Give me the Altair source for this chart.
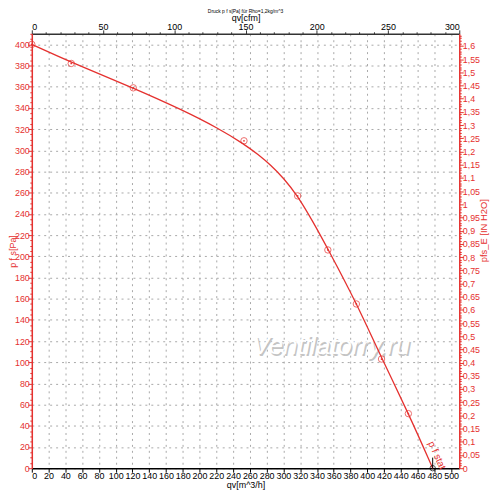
import altair as alt
import pandas as pd

# ---- data ----
qv_points = [0, 47, 121, 253, 317, 353, 387, 417, 449]          # m^3/h
pfs_points = [400, 382, 359, 309, 257, 206, 155, 103, 51.5]      # Pa
qv_curve = [0, 47, 121, 180, 222, 253, 270, 285, 300, 317, 335, 353, 387, 417, 449, 478]
pfs_curve = [400, 383, 359, 338, 321, 306, 296, 286, 274, 257, 233, 207, 156, 104, 52, 0]
op_qv = [478]
op_pfs = [0]
op_pfs_top = [10]
label_qv = [483]
label_pfs = [12]
label_text = ["p f stat"]
title_text = "Druck p f s[Pa] für Rho=1,2kg/m^3"
watermark = "Ventilatorry.ru"

RED = "#e5312f"
PA_MAX = 410
CFM = 1.699          # m^3/h per cfm
Q_MAX = 300 * CFM    # 300 cfm
INH2O = 249.089      # Pa per inH2O
FONT = "Liberation Sans"

pts = pd.DataFrame({"q": qv_points, "p": pfs_points})
curve = pd.DataFrame({"q": qv_curve, "p": pfs_curve})
op = pd.DataFrame({"q": op_qv, "p": op_pfs, "p2": op_pfs_top})
lab = pd.DataFrame({"q": label_qv, "p": label_pfs, "t": label_text})

pa_vals = list(range(0, PA_MAX + 1, 5))
q_vals = list(range(0, 501, 20))
cfm_vals = list(range(0, 301, 10))
in_vals = [round(i * 0.01, 2) for i in range(0, 165)]

MAJ, MIN = 4, 2

X_enc = alt.X(
    "q:Q",
    scale=alt.Scale(domain=[0, Q_MAX], nice=False, zero=False),
    axis=alt.Axis(
        orient="bottom", values=q_vals, title="qv[m^3/h]", labelOverlap=False,
        domainColor="black", domainWidth=1.5, tickColor="black", tickSize=MAJ,
        labelColor="black", titleColor="black", grid=True, gridDash=[2, 4],
        gridColor="#a8a8a8", labelPadding=-1, titlePadding=0, titleFontSize=9,
    ),
)
Y_enc = alt.Y(
    "p:Q",
    scale=alt.Scale(domain=[0, PA_MAX], nice=False),
    axis=alt.Axis(
        orient="left", values=pa_vals, title="p f s[Pa]", labelOverlap=False,
        labelExpr="datum.value % 20 === 0 ? datum.label : ''",
        tickSize={"condition": {"test": "datum.value % 20 === 0", "value": MAJ}, "value": MIN},
        gridOpacity={"condition": {"test": "datum.value % 20 === 0", "value": 1}, "value": 0},
        grid=True, gridDash=[2, 4], gridColor="#a8a8a8",
        domainColor=RED, domainWidth=1.5, tickColor=RED, labelColor=RED,
        titleColor=RED, labelPadding=-1.5, titleX=-19.5, titleBaseline="middle",
        titleFontSize=9,
    ),
)

line = alt.Chart(curve).mark_line(color=RED, strokeWidth=1.3, interpolate="basis").encode(
    x=X_enc, y=Y_enc)
rings = alt.Chart(pts).mark_point(shape="circle", size=42, color=RED, strokeWidth=1,
                                  filled=False).encode(x=X_enc, y=Y_enc)
dots = alt.Chart(pts).mark_point(shape="circle", size=3, color=RED, filled=True,
                                 opacity=1).encode(x=X_enc, y=Y_enc)
label = alt.Chart(lab).mark_text(color=RED, fontSize=10, angle=66, font=FONT).encode(
    x=X_enc, y=Y_enc, text="t:N")
op_rule = alt.Chart(op).mark_rule(color="black", strokeWidth=1).encode(
    x=X_enc, y=Y_enc, y2="p2:Q")
op_pt = alt.Chart(op).mark_point(shape="circle", size=30, color="black", filled=False,
                                 strokeWidth=1).encode(x=X_enc, y=Y_enc)
wm_df = pd.DataFrame({"t": [watermark]})
wm_shadow = alt.Chart(wm_df).mark_text(fontSize=26, fontStyle="italic", font=FONT,
                                       color="#c4c4c4", dx=1.5, dy=1.5).encode(
    x=alt.value(302), y=alt.value(315), text="t:N")
wm_front = alt.Chart(wm_df).mark_text(fontSize=26, fontStyle="italic", font=FONT,
                                      color="#ffffff").encode(
    x=alt.value(302), y=alt.value(315), text="t:N")

main = alt.layer(wm_shadow, wm_front, line, rings, dots, label, op_rule, op_pt)

in_major = "abs(datum.value*20 - round(datum.value*20)) < 1e-6"
second = alt.Chart(pts).transform_calculate(
    cfm=f"datum.q / {CFM}", inh=f"datum.p / {INH2O}"
).mark_point(opacity=0).encode(
    x=alt.X("cfm:Q", scale=alt.Scale(domain=[0, 300], nice=False, zero=False),
            axis=alt.Axis(orient="top", values=cfm_vals, title="qv[cfm]",
                          labelExpr="datum.value % 50 === 0 ? datum.label : ''",
                          tickSize={"condition": {"test": "datum.value % 50 === 0", "value": MAJ},
                                    "value": MIN},
                          labelOverlap=False, grid=False, domainColor="#333333",
                          domainWidth=1.5, tickColor="#333333", labelColor="black",
                          titleColor="black", labelPadding=-2, titlePadding=0,
                          titleFontSize=9)),
    y=alt.Y("inh:Q", scale=alt.Scale(domain=[0, PA_MAX / INH2O], nice=False),
            axis=alt.Axis(orient="right", values=in_vals, title="pfs_E [IN H2O]",
                          titleAngle=270, titleX=24, titleY=198, titleBaseline="middle",
                          titleFontSize=9.5,
                          labelExpr=f"{in_major} ? replace(format(datum.value, '.2~f'), '.', ',') : ''",
                          tickSize={"condition": {"test": in_major, "value": MAJ}, "value": MIN},
                          labelOverlap=False, grid=False, domainColor=RED, domainWidth=1.5,
                          tickColor=RED, labelColor=RED, titleColor=RED,
                          labelPadding=-1)),
)

chart = alt.layer(main, second).resolve_scale(
    x="independent", y="independent"
).properties(
    width=431, height=438,
    autosize=alt.AutoSizeParams(type="none"),
    padding={"left": 24, "top": 24, "right": 33, "bottom": 22},
    title=alt.TitleParams(title_text, fontSize=5, font=FONT, fontWeight="normal",
                          anchor="middle", offset=0),
).configure_axis(
    labelFont=FONT, titleFont=FONT, labelFontSize=9, titleFontSize=10,
    titleFontWeight="normal",
).configure_view(stroke=None)

chart.save("out.html", embed_options={"renderer": "svg", "actions": False})
